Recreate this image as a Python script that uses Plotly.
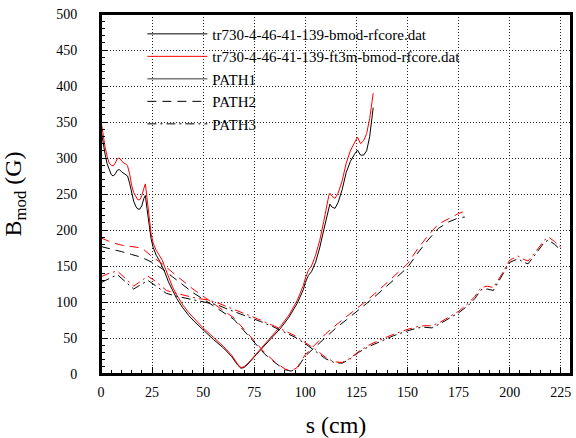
import plotly.graph_objects as go

# Solid curves (file 1 black, file 2 red)
s_a = [0, 1, 2, 3, 4, 5, 6, 7, 8, 9, 10, 11, 12, 13, 14, 15, 16, 17, 18, 19, 20, 21, 21.7,
       22.5, 23.5, 24.5, 25.5, 27, 28.5, 30, 31, 33, 35, 37, 40, 43, 46, 50, 55, 60, 64, 67,
       68.5, 70, 72, 76, 80, 84, 88, 92, 96, 99, 100, 101.5, 103, 105, 107, 109, 110.5, 111.5,
       112, 113, 114.5, 116, 118, 120, 122, 124, 125.5, 127, 128.5, 130, 131.5, 133.2]
b_black = [340, 320, 305, 292, 283, 277, 275, 278, 283, 284, 281, 279, 278, 275, 265, 250, 240,
           233, 229, 229, 234, 244, 248, 230, 205, 188, 176, 165, 158, 150, 143, 128, 116, 105,
           92, 81, 72, 61, 48, 36, 24, 12, 8, 9, 14, 27, 39, 51, 64, 79, 98, 117, 127, 137, 142,
           155, 175, 200, 220, 233, 236, 232, 230, 238, 256, 280, 295, 305, 311, 304, 304, 310,
           330, 370]
b_red = [352, 332, 315, 302, 293, 290, 289, 293, 299, 300, 296, 293, 292, 289, 278, 262, 252,
         246, 242, 242, 248, 258, 264, 245, 215, 195, 182, 172, 165, 158, 150, 135, 121, 110,
         96, 85, 76, 64, 51, 38, 26, 13, 9, 10, 15, 28, 41, 54, 67, 82, 102, 123, 133, 144, 150,
         165, 185, 212, 235, 248, 251, 247, 244, 251, 268, 293, 310, 320, 329, 320, 324, 334,
         355, 390]

# PATH2 (dashed)
s_p2 = [0, 5, 10, 15, 20, 25, 30, 35, 40, 45, 50, 55, 60, 65, 70, 75, 80, 85, 90, 93, 96, 100,
        105, 110, 115, 120, 125, 130, 135, 140, 145, 150, 155, 160, 165, 170, 175, 178]
b_p2_black = [177, 174, 170, 166, 162, 155, 146, 135, 124, 113, 104, 95, 86, 76, 60, 44, 28, 16,
              6, 4, 8, 25, 38, 52, 64, 75, 86, 98, 110, 122, 135, 148, 168, 186, 202, 211, 217, 218]
b_p2_red = [189, 183, 179, 177, 175, 163, 153, 141, 129, 118, 108, 98, 89, 78, 62, 46, 30, 17,
            7, 4, 9, 27, 41, 56, 68, 79, 90, 102, 114, 127, 140, 153, 174, 192, 208, 216, 223, 226]

# PATH3 (dash-dot)
s_p3 = [0, 4, 8, 12, 16, 20, 23, 27, 32, 37, 42, 47, 52, 57, 62, 67, 72, 78, 84, 90, 95, 100,
        105, 110, 114, 118, 122, 126, 131, 137, 143, 150, 155, 158, 162, 166, 170, 175, 180, 183,
        186, 189, 192, 196, 200, 204, 207, 209, 213, 217, 219, 222, 225]
b_p3_black = [127, 133, 138, 128, 118, 125, 130, 122, 112, 108, 105, 102, 100, 96, 90, 85, 80,
              73, 66, 58, 51, 42, 32, 21, 16, 15, 21, 30, 38, 46, 53, 60, 64, 65, 64, 70, 77, 85,
              96, 105, 117, 118, 116, 135, 155, 160, 155, 153, 168, 183, 186, 180, 172]
b_p3_red = [135, 140, 143, 133, 122, 130, 136, 128, 116, 112, 108, 105, 103, 99, 93, 88, 82,
            75, 68, 60, 53, 44, 34, 23, 17, 16, 22, 31, 40, 48, 55, 62, 66, 67, 67, 72, 79, 87,
            99, 108, 120, 122, 120, 138, 158, 164, 159, 157, 171, 186, 190, 184, 176]

names = ["tr730-4-46-41-139-bmod-rfcore.dat", "tr730-4-46-41-139-ft3m-bmod-rfcore.dat",
         "PATH1", "PATH2", "PATH3"]

x_ticks = list(range(0, 226, 25))
y_ticks = list(range(0, 501, 50))

DASH = "9px,6px"
DASHDOT = "9px,4px,2px,4px"
font = "Liberation Serif, Times New Roman, Times, serif"

fig = go.Figure()
fig.add_trace(go.Scatter(x=s_a, y=b_black, mode="lines", name=names[0],
                         line=dict(color="black", width=1)))
fig.add_trace(go.Scatter(x=s_a, y=b_red, mode="lines", name=names[1],
                         line=dict(color="red", width=1)))
fig.add_trace(go.Scatter(x=[None], y=[None], mode="lines", name=names[2],
                         line=dict(color="#333333", width=1)))
fig.add_trace(go.Scatter(x=s_p2, y=b_p2_black, mode="lines", name=names[3],
                         line=dict(color="black", width=1, dash=DASH)))
fig.add_trace(go.Scatter(x=s_p3, y=b_p3_black, mode="lines", name=names[4],
                         line=dict(color="black", width=1, dash=DASHDOT)))
fig.add_trace(go.Scatter(x=s_p2, y=b_p2_red, mode="lines", showlegend=False,
                         line=dict(color="red", width=1, dash=DASH)))
fig.add_trace(go.Scatter(x=s_p3, y=b_p3_red, mode="lines", showlegend=False,
                         line=dict(color="red", width=1, dash=DASHDOT)))

axis_common = dict(
    showline=True, linecolor="black", linewidth=2, mirror=True,
    ticks="inside", ticklen=7, tickcolor="black", tickwidth=1,
    showgrid=True, gridcolor="#222222", griddash="1px,2px", gridwidth=1,
    zeroline=False, automargin=False, ticklabeloverflow="allow",
    tickfont=dict(family=font, size=14, color="black"),
)

fig.update_layout(
    width=576, height=438,
    margin=dict(l=101, r=5, t=14, b=64),
    paper_bgcolor="white", plot_bgcolor="white",
    font=dict(family=font, color="black"),
    showlegend=True,
    legend=dict(x=0.088, y=0.99, xanchor="left", yanchor="top",
                bgcolor="rgba(0,0,0,0)", borderwidth=0,
                font=dict(family=font, size=15, color="black"),
                tracegroupgap=0, itemwidth=60),
    xaxis=dict(range=[0, 230], tickvals=x_ticks, ticklabelstandoff=4,
               minor=dict(dtick=5, ticks="inside", ticklen=4, tickcolor="black", showgrid=False),
               title=dict(text="s (cm)", font=dict(family=font, size=24), standoff=19),
               **axis_common),
    yaxis=dict(range=[0, 500], tickvals=y_ticks, ticklabelstandoff=19,
               minor=dict(dtick=10, ticks="inside", ticklen=4, tickcolor="black", showgrid=False),
               title=dict(text="B<sub>mod</sub> (G)", font=dict(family=font, size=24), standoff=28),
               **axis_common),
    shapes=[dict(type="rect", xref="paper", yref="paper", x0=0, x1=1, y0=0, y1=1,
                 line=dict(color="black", width=2), layer="above")],
)

fig.write_html(
    "out.html",
    config={"displayModeBar": False},
    post_script="document.body.style.margin='0';document.body.style.overflow='hidden';",
)
